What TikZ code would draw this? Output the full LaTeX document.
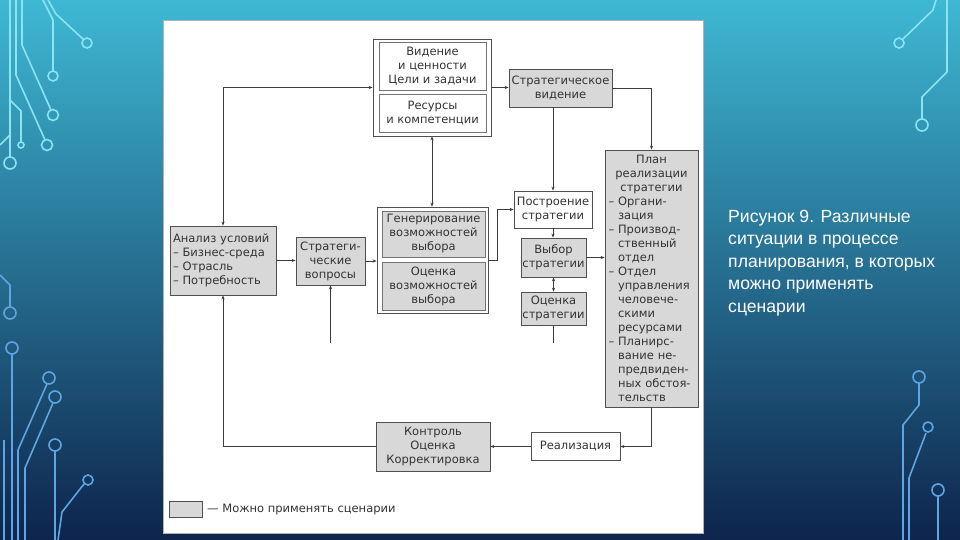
\documentclass[tikz,border=0pt]{standalone}
\usepackage{fontspec}
\setmainfont{Liberation Sans}
\newfontfamily\dgfont{DejaVu Sans}
\usetikzlibrary{arrows.meta,calc}

\definecolor{bgtop}{RGB}{62,184,212}
\definecolor{bgmid}{RGB}{38,128,168}
\definecolor{bgbot}{RGB}{14,36,76}
\definecolor{boxgray}{RGB}{216,216,216}
\definecolor{boxline}{RGB}{80,80,80}
\definecolor{arrowc}{RGB}{60,60,60}
\definecolor{circA}{RGB}{140,228,242}
\definecolor{circB}{RGB}{95,165,225}

\begin{document}
\begin{tikzpicture}[x=1pt,y=-1pt,
  dg/.style={font=\dgfont\fontsize{11.5}{14}\selectfont, text=black!80},
  box/.style={draw=boxline, line width=0.8pt, inner sep=1pt, align=center, dg},
  gbox/.style={box, fill=boxgray},
  wbox/.style={box, fill=white},
  arr/.style={draw=arrowc, line width=0.7pt, -{Stealth[length=4pt,width=3.2pt]}},
  darr/.style={draw=arrowc, line width=0.7pt, {Stealth[length=4pt,width=3.2pt]}-{Stealth[length=4pt,width=3.2pt]}},
  ln/.style={draw=arrowc, line width=0.7pt},
  circa/.style={line width=1.6pt, draw=circA},
  circb/.style={line width=1.6pt, draw=circB},
]
\useasboundingbox (0,0) rectangle (960,540);
\shade[top color=bgtop, middle color=bgmid, bottom color=bgbot] (0,0) rectangle (960,540);

% circuit decorations, left top
\draw[circa] (48,0) -- (56,14) -- (83.5,39.5);
\draw[circa] (87,43) circle[radius=5];
\draw[circa] (43,0) -- (53,20) -- (53,71);
\draw[circa] (53,76) circle[radius=5];
\draw[circa] (22,0) -- (22,45) -- (51,110);
\draw[circa] (53,115) circle[radius=5.5];
\draw[circa] (16,0) -- (16,75) -- (45,140);
\draw[circa] (47,145) circle[radius=5.5];
\draw[circa] (10,0) -- (10,157);
\draw[circa] (10,163) circle[radius=6];
\draw[circa] (10,100) -- (21,111) -- (21,142);
\draw[circa] (21,145) circle[radius=3];
\draw[circa] (0,145) -- (10,135);
% left bottom
\draw[circb] (0,275) -- (10,285) -- (10,307);
\draw[circb] (10,313) circle[radius=6];
\draw[circb] (12,354) -- (12,540);
\draw[circb] (12,348) circle[radius=6];
\draw[circb] (47,384) -- (18,450) -- (18,540);
\draw[circb] (49,378) circle[radius=6];
\draw[circb] (53,403) -- (25,468) -- (25,540);
\draw[circb] (55,397) circle[radius=6];
\draw[circb] (55,451) -- (55,540);
\draw[circb] (55,445) circle[radius=6];
\draw[circb] (84,484) -- (62,512) -- (58,540);
\draw[circb] (88,480) circle[radius=5];
\draw[circb] (4,440) -- (4,540);
% right top
\draw[circa] (903,39) -- (933,10) -- (936,0);
\draw[circa] (899,43) circle[radius=5];
\draw[circa] (922,119) -- (922,97) -- (947,72) -- (947,0);
\draw[circa] (922,125) circle[radius=6];
% right bottom
\draw[circb] (919,383) -- (919,405) -- (903,425) -- (903,540);
\draw[circb] (919,377) circle[radius=6];
\draw[circb] (926,433) -- (909,478) -- (909,540);
\draw[circb] (928,427) circle[radius=5];
\draw[circb] (938,496) -- (938,540);
\draw[circb] (938,490) circle[radius=6];

% white panel
\fill[white, draw=gray!60, line width=0.6pt] (163,20) rectangle (703,533);

% boxes
\node[wbox, minimum width=118, minimum height=97] (topbox) at (432,87.5) {};
\node[wbox, draw=boxline!80, minimum width=107, minimum height=48] (topA) at (432.5,66) {Видение\\и ценности\\Цели и задачи};
\node[wbox, draw=boxline!80, minimum width=107, minimum height=38] (topB) at (432.5,113) {Ресурсы\\и компетенции};
\node[gbox, minimum width=103, minimum height=38] (sv) at (560.5,88) {Стратегическое\\видение};
\node[gbox, minimum width=106, minimum height=69, align=left, text width=100] (an) at (223,260.5) {Анализ условий\\– Бизнес-среда\\– Отрасль\\– Потребность};
\node[gbox, minimum width=69, minimum height=48] (sq) at (330.5,261) {Стратеги-\\ческие\\вопросы};
\node[wbox, minimum width=111, minimum height=106] (gen) at (432.5,260) {};
\node[gbox, draw=boxline!80, minimum width=103, minimum height=46] (genA) at (433.5,234) {Генерирование\\возможностей\\выбора};
\node[gbox, draw=boxline!80, minimum width=103, minimum height=48] (genB) at (433.5,286) {Оценка\\возможностей\\выбора};
\node[wbox, minimum width=78, minimum height=37] (pb) at (553,209.5) {Построение\\стратегии};
\node[gbox, minimum width=65, minimum height=39] (vs) at (553.5,257.5) {Выбор\\стратегии};
\node[gbox, minimum width=65, minimum height=33] (os) at (553.5,308.5) {Оценка\\стратегии};
\node[gbox, minimum width=93, minimum height=257, align=left, text width=86, inner sep=0pt] (plan) at (651.5,278.5)
  {\makebox[86pt][c]{План}\\\makebox[86pt][c]{реализации}\\\makebox[86pt][c]{стратегии}\\
   – Органи-\\\phantom{– }зация\\– Производ-\\\phantom{– }ственный\\\phantom{– }отдел\\– Отдел\\\phantom{– }управления\\\phantom{– }человече-\\\phantom{– }скими\\\phantom{– }ресурсами\\– Планирс-\\\phantom{– }вание не-\\\phantom{– }предвиден-\\\phantom{– }ных обстоя-\\\phantom{– }тельств};
\node[gbox, minimum width=114, minimum height=49] (kon) at (433,446.5) {Контроль\\Оценка\\Корректировка};
\node[wbox, minimum width=89, minimum height=28] (real) at (575.5,446.5) {Реализация};

% legend
\node[gbox, minimum width=33, minimum height=16] (leg) at (185.5,509) {};
\node[dg, anchor=west, inner sep=0pt] (legt) at (207,509) {— Можно применять сценарии};

% free ends
\coordinate (sqin) at (330.5,343);
\coordinate (osout) at (553.5,343);

% connectors
\draw[darr] (an.north) |- (topbox.west);
\draw[arr] (topbox.east) -- (topbox.east -| sv.west);
\draw[arr] (sv.east) -| (plan.north);
\draw[arr] (sv.south -| pb.north) -- (pb.north);
\draw[arr] (pb.south) -- (pb.south |- vs.north);
\draw[darr] (vs.south -| os.north) -- (os.north);
\draw[ln] (os.south) -- (osout);
\draw[arr] (vs.east) -- (vs.east -| plan.west);
\draw[darr] (topbox.south) -- (topbox.south |- gen.north);
\draw[arr] (an.east) -- (an.east -| sq.west);
\draw[arr] (sq.east) -- (sq.east -| gen.west);
\draw[arr] (sqin) -- (sq.south);
\draw[arr] (gen.east) -- ++(9,0) |- (pb.west);
\draw[arr] (plan.south) |- (real.east);
\draw[arr] (real.west) -- (kon.east);
\draw[arr] (kon.west) -| (an.south);

% caption
\node[anchor=north west, align=left, text=white, font=\fontsize{17.6}{22.5}\selectfont, inner sep=0pt] (cap) at (728,210)
  {Рисунок 9. Различные\\ситуации в процессе\\планирования, в которых\\можно применять\\сценарии};
\end{tikzpicture}
\end{document}
